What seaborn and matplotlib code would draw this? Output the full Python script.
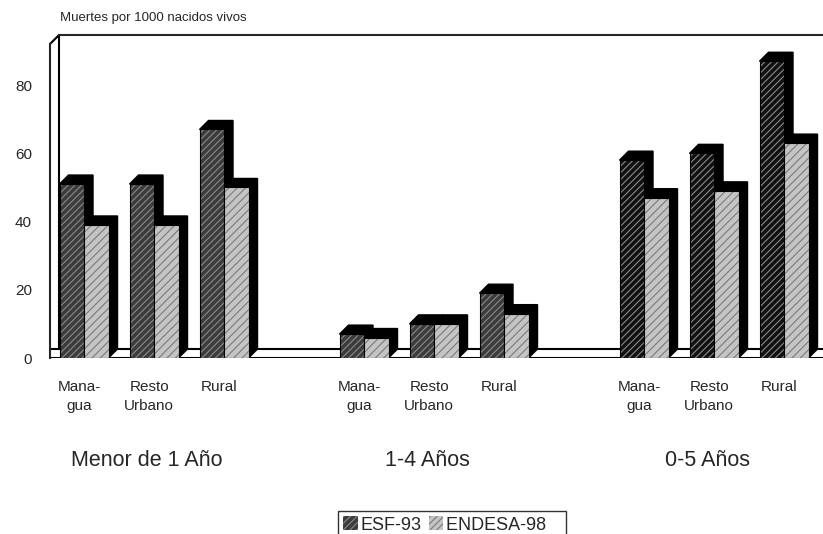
import numpy as np
import pandas as pd
import matplotlib
matplotlib.use('Agg')
import matplotlib.pyplot as plt
import seaborn as sns
from matplotlib.patches import Polygon, Rectangle, Patch

# Data
groups = ['Menor de 1 Año', '1-4 Años', '0-5 Años']
zones = ['Mana-\ngua', 'Resto\nUrbano', 'Rural']
series = ['ESF-93', 'ENDESA-98']
esf_93 = [51, 51, 67, 7, 10, 19, 58, 60, 87]
endesa_98 = [39, 39, 50, 6, 10, 13, 47, 49, 63]
yticks = [0, 20, 40, 60, 80]

# long table, a blank slot between the age groups
rows = []
for i, g in enumerate(groups):
    for j, z in enumerate(zones):
        k = i * 3 + j
        rows.append({'pos': i * 4 + j, 'serie': series[0], 'valor': esf_93[k]})
        rows.append({'pos': i * 4 + j, 'serie': series[1], 'valor': endesa_98[k]})
df = pd.DataFrame(rows)

sns.set_style('white')
plt.rcParams['font.family'] = ['Liberation Sans', 'DejaVu Sans']
plt.rcParams['hatch.linewidth'] = 0.8

fig = plt.figure(figsize=(8.23, 5.34), dpi=100)
ax = fig.add_axes([50 / 823, 1 - 358 / 534, 1 - 50 / 823, (358 - 35) / 534])

face = {'ESF-93': '#3c3c3c', 'ENDESA-98': '#c4c4c4'}
hatch_col = {'ESF-93': '#8a8a8a', 'ENDESA-98': '#7a7a7a'}
sns.barplot(data=df, x='pos', y='valor', hue='serie', hue_order=series,
            native_scale=True, width=0.7, palette=face, legend=False,
            saturation=1, ax=ax)

xmin, xmax = -0.486, 10.557
ymax = 94.7
ax.set_xlim(xmin, xmax)
ax.set_ylim(0, ymax)

# depth of the pseudo 3D bars (9 px each way)
dx = 9 / 70
dy = 9 / 3.41

bars = list(ax.patches)
n = len(esf_93)
z = 2
for idx, b in enumerate(bars):
    s = series[0] if idx < n else series[1]
    x0, w, h = b.get_x(), b.get_width(), b.get_height()
    if s == series[0] and idx % 9 >= 6:
        b.set_facecolor('#111111')
    b.set_hatch('/////' if s == series[0] else '////')
    b.set_edgecolor(hatch_col[s])
    b.set_linewidth(0)
    depth = Polygon([(x0, h), (x0 + dx, h + dy), (x0 + w + dx, h + dy),
                     (x0 + w + dx, dy), (x0 + w, 0), (x0 + w, h)],
                    closed=True, facecolor='black', edgecolor='black', lw=1)
    depth.set_zorder(z)
    ax.add_patch(depth)
    b.set_zorder(z + 1)
    outline = Rectangle((x0, 0), w, h, fill=False, edgecolor='black', lw=0.8, zorder=z + 1.5)
    ax.add_patch(outline)
    z += 2

# floor and walls
ax.axhline(0, color='black', lw=1.5, zorder=1)
ax.axhline(dy, color='black', lw=1.5, zorder=1)
ax.plot([xmin + dx, xmin + dx], [dy, ymax], color='black', lw=1.5, zorder=1, clip_on=False)
for side in ['right', 'bottom']:
    ax.spines[side].set_visible(False)
ax.spines['left'].set_linewidth(1.5)
ax.spines['left'].set_bounds(0, ymax - dy)
ax.spines['top'].set_linewidth(1.5)
ax.spines['top'].set_bounds(xmin + dx, xmax)
ax.plot([xmin, xmin + dx], [ymax - dy, ymax], color='black', lw=1.5, clip_on=False)

ax.set_yticks(yticks)
ax.set_yticklabels([str(t) for t in yticks], fontsize=11)
ax.tick_params(axis='y', length=0, pad=13)

ax.set_xticks([p - 0.07 for p in sorted(df['pos'].unique())])
ax.set_xticklabels(zones * 3, fontsize=11, linespacing=1.45)
ax.tick_params(axis='x', length=0, pad=16)
ax.set_xlabel('')
ax.set_ylabel('')

for i, g in enumerate(groups):
    ax.text(i * 4 + 0.9, -0.316 * ymax, g, ha='center', va='center', fontsize=15.5,
            transform=ax.transData, clip_on=False)

fig.text(60 / 823, 1 - 18 / 534, 'Muertes por 1000 nacidos vivos', fontsize=9.5,
         ha='left', va='center')

handles = [Patch(facecolor=face[s], edgecolor=hatch_col[s], hatch='/////', lw=0) for s in series]
leg = fig.legend(handles, [s + '   ' if s == series[1] else s for s in series],
                 loc='upper left', bbox_to_anchor=(338 / 823, 1 - 511 / 534),
                 ncol=2, frameon=True, fontsize=13, handlelength=0.8, handleheight=0.8,
                 handletextpad=0.15, columnspacing=0.4, borderpad=0.3, borderaxespad=0,
                 fancybox=False)
leg.get_frame().set_edgecolor('black')
leg.get_frame().set_linewidth(1)

fig.savefig('out.png', dpi=100)
